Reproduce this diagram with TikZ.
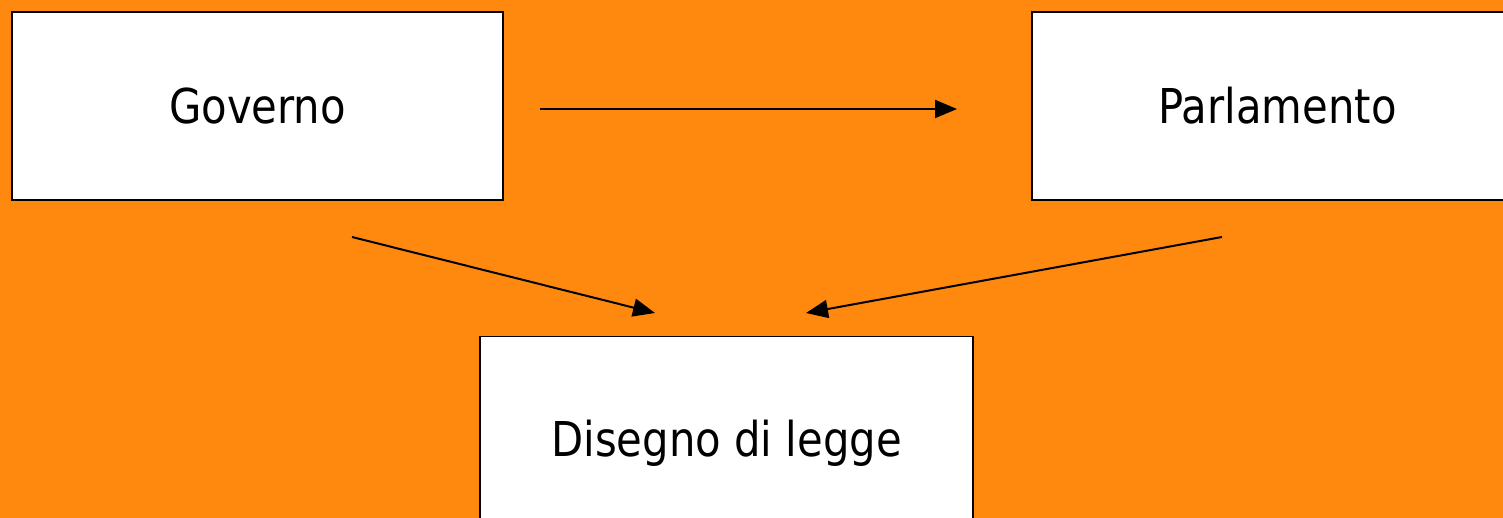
\documentclass[tikz,border=0pt]{standalone}
\usepackage{fontspec}
\setmainfont{DejaVu Sans}[FakeStretch=0.87]
\usepackage{tikz}
\usetikzlibrary{arrows.meta}

\definecolor{sfondo}{RGB}{255,136,14}
\tikzset{
  box/.style={draw=black,fill=white,line width=1.8pt,inner sep=0pt,
    minimum width=491pt,minimum height=188pt,text height=36pt,text depth=0pt,
    font=\fontsize{48pt}{58pt}\selectfont},
  freccia/.style={line width=2pt,-{Triangle[length=22pt,width=18pt]}}
}

\begin{document}
\begin{tikzpicture}[x=1pt,y=-1pt]
    \clip (0,0) rectangle (1503,518);
    \fill[sfondo] (0,0) rectangle (1503,518);

    \node[box] (1) at (257.5,106) {Governo};
    \node[box,right of=1,node distance=1020pt] (2) {Parlamento};
    \node[box,minimum width=493pt,minimum height=203pt] (3) at (726.5,438) {Disegno di legge};

    %% free ends
    \coordinate (4) at (540,109);
    \coordinate (5) at (957,109);
    \coordinate (6) at (352,237);
    \coordinate (7) at (655,313);
    \coordinate (8) at (1222,237);
    \coordinate (9) at (806,313);

    %% arrows
    \draw[freccia] (4) -- (5);
    \draw[freccia] (6) -- (7);
    \draw[freccia] (8) -- (9);
  \end{tikzpicture}
\end{document}
